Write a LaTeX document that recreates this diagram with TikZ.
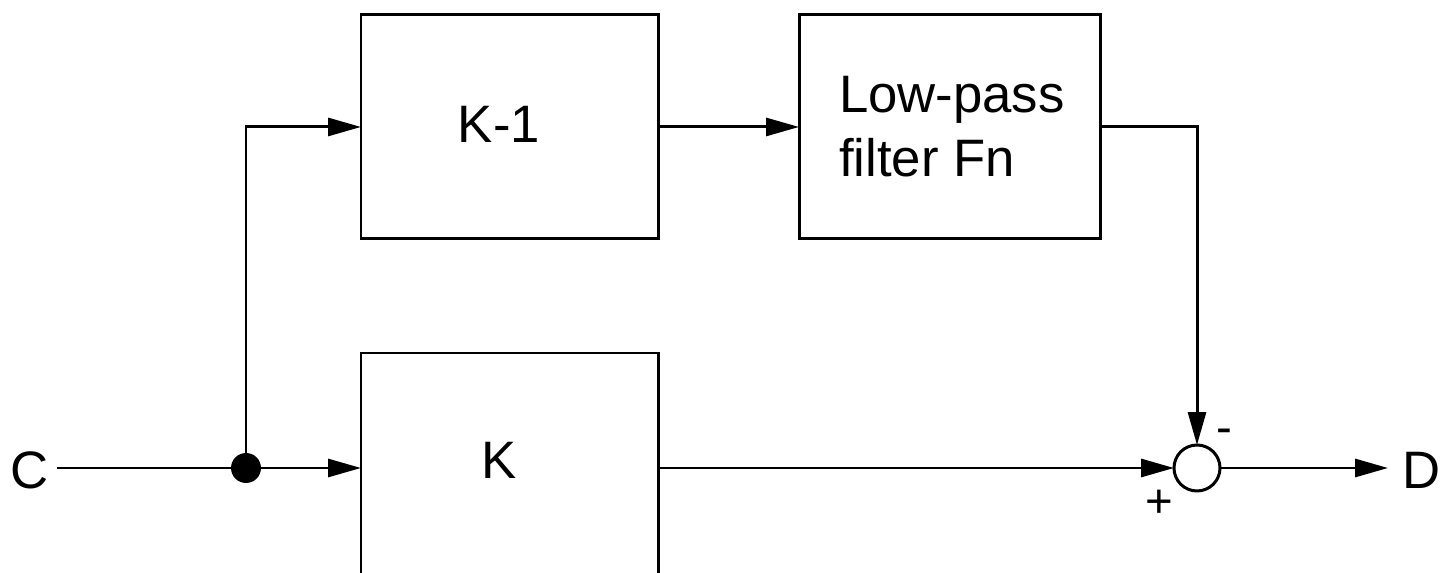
\documentclass[tikz,border=0pt]{standalone}
\usepackage{fontspec}
\setmainfont{Liberation Sans}
\usetikzlibrary{arrows.meta}
\setlength{\lineskiplimit}{-100pt}
\begin{document}
\begin{tikzpicture}[x=0.02cm,y=-0.02cm,
  line width=1.7pt,
  font=\fontsize{30pt}{36.8pt}\selectfont,
  blk/.style={draw, line width=1.7pt, inner sep=0pt, outer sep=0pt, anchor=north west, minimum height=4.48cm},
  txt/.style={inner sep=0pt, outer sep=0pt},
  sgn/.style={inner sep=0pt, outer sep=0pt, font=\fontsize{27pt}{27pt}\selectfont},
  tip/.style={-{Triangle[length=18.7pt,width=10.2pt]}},
  dot/.style={circle, fill, inner sep=0pt, outer sep=0pt, minimum size=0.6cm},
  sum/.style={circle, draw, fill=white, inner sep=0pt, outer sep=0pt, minimum size=0.92cm}]
\clip (0,0) rectangle (1441,573);
\useasboundingbox (0,0) rectangle (1441,573);
% blocks
\node[blk, minimum width=5.96cm] (k1) at (361,15) {};
\node[blk, minimum width=6.04cm] (lp) at (799,15) {};
\node[blk, minimum width=5.96cm, minimum height=5.2cm] (k) at (361,353) {};
% texts
\node[txt, anchor=base] (k1t) at (499,143) {K-1};
\node[txt, anchor=west, align=left] (lpt) at (839,126.5) {Low-pass\\filter Fn};
\node[txt, anchor=base] (kt) at (499,479) {K};
\node[txt] (c) at (30,470) {C};
\node[txt] (d) at (1422,470) {D};
\node[sgn] (minus) at (1224,436) {-};
\node[sgn] (plus) at (1159,504) {+};
% junction and sum
\node[dot] (j) at (246,468) {};
\node[sum] (s) at (1197,468) {};
\coordinate (cin) at (57,468);
\coordinate (dout) at (1388,468);
% connectors
\draw (cin) -- (j.center);
\draw[tip] (j.center) -- (j -| k.west);
\draw[tip] (j.center) |- (k1.west);
\draw[tip] (k1.east) -- (lp.west);
\draw[tip] (lp.east) -| (s.north);
\draw[tip] (k.east |- s.west) -- (s.west);
\draw[tip] (s.east) -- (dout);
\end{tikzpicture}
\end{document}
